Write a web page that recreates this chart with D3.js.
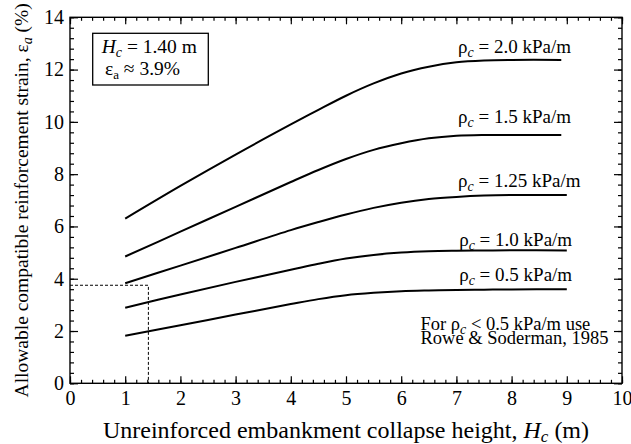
<!DOCTYPE html>
<html><head><meta charset="utf-8">
<script src="https://cdn.jsdelivr.net/npm/d3@7"></script>
</head><body style="margin:0;background:#fff">
<svg id="c" width="631" height="444" font-family="Liberation Serif"></svg>
<script>
// Data
const hcShort = [1, 2, 3, 4, 4.5, 5, 5.5, 6, 6.5, 7, 7.5, 8, 8.9];
const hcLong  = [1, 2, 3, 4, 4.5, 5, 5.5, 6, 6.5, 7, 7.5, 8, 9];
const strain20  = [6.30, 7.55, 8.75, 9.90, 10.46, 11.00, 11.47, 11.85, 12.11, 12.28, 12.35, 12.37, 12.37];
const strain15  = [4.85, 5.80, 6.75, 7.70, 8.16, 8.58, 8.93, 9.18, 9.37, 9.47, 9.50, 9.50, 9.50];
const strain125 = [3.83, 4.50, 5.18, 5.86, 6.17, 6.46, 6.71, 6.91, 7.05, 7.13, 7.18, 7.20, 7.20];
const strain10  = [2.89, 3.40, 3.88, 4.34, 4.57, 4.77, 4.91, 5.00, 5.05, 5.07, 5.08, 5.09, 5.08];
const strain05  = [1.82, 2.22, 2.63, 3.03, 3.22, 3.37, 3.46, 3.52, 3.55, 3.57, 3.58, 3.59, 3.60];
const seriesLabels = ["2.0", "1.5", "1.25", "1.0", "0.5"];
const xTicks = [0,1,2,3,4,5,6,7,8,9,10];
const yTicks = [0,2,4,6,8,10,12,14];
const designHc = 1.42, designStrain = 3.75;

const svg = d3.select("#c");
const pL = 70, pR = 622, pT = 17.3, pB = 383.3;
const x = d3.scaleLinear().domain([0, 10]).range([pL, pR]);
const y = d3.scaleLinear().domain([0, 14]).range([pB, pT]);

const xMinor = d3.range(0, 10.001, 0.2);
const yMinor = d3.range(0, 14.001, 0.4);

function axisStyle(g){
  g.attr("font-family", "Liberation Serif").attr("font-size", 20);
  g.select(".domain").remove();
  g.selectAll("line").attr("stroke", "#000").attr("stroke-width", 1.2);
  g.selectAll("text").attr("fill", "#000");
}

// bottom
svg.append("g").attr("transform", `translate(0,${pB})`)
  .call(d3.axisBottom(x).tickValues(xMinor).tickSize(-3.5).tickFormat("")).call(axisStyle);
svg.append("g").attr("transform", `translate(0,${pB})`)
  .call(d3.axisBottom(x).tickValues(xTicks).tickSize(-7).tickPadding(8).tickFormat(d3.format("d"))).call(axisStyle);
// top
svg.append("g").attr("transform", `translate(0,${pT})`)
  .call(d3.axisTop(x).tickValues(xMinor).tickSize(-3.5).tickFormat("")).call(axisStyle);
svg.append("g").attr("transform", `translate(0,${pT})`)
  .call(d3.axisTop(x).tickValues(xTicks).tickSize(-7).tickFormat("")).call(axisStyle);
// left
svg.append("g").attr("transform", `translate(${pL},0)`)
  .call(d3.axisLeft(y).tickValues(yMinor).tickSize(-4).tickFormat("")).call(axisStyle);
svg.append("g").attr("transform", `translate(${pL},0)`)
  .call(d3.axisLeft(y).tickValues(yTicks).tickSize(-8).tickPadding(6).tickFormat(d3.format("d"))).call(axisStyle);
// right
svg.append("g").attr("transform", `translate(${pR},0)`)
  .call(d3.axisRight(y).tickValues(yMinor).tickSize(-4).tickFormat("")).call(axisStyle);
svg.append("g").attr("transform", `translate(${pR},0)`)
  .call(d3.axisRight(y).tickValues(yTicks).tickSize(-8).tickFormat("")).call(axisStyle);

// frame
svg.append("rect").attr("x", pL).attr("y", pT).attr("width", pR-pL).attr("height", pB-pT)
  .attr("fill", "none").attr("stroke", "#000").attr("stroke-width", 1.4);

// dashed design lines
svg.append("path")
  .attr("d", d3.line()([[x(0), y(designStrain)], [x(designHc), y(designStrain)], [x(designHc), y(0)]]))
  .attr("fill", "none").attr("stroke", "#000").attr("stroke-width", 1).attr("stroke-dasharray", "3,2");

// curves
const series = [
  {xs: hcShort, ys: strain20},
  {xs: hcShort, ys: strain15},
  {xs: hcLong, ys: strain125},
  {xs: hcLong, ys: strain10},
  {xs: hcLong, ys: strain05}
];
const line = d3.line().x(d => x(d[0])).y(d => y(d[1])).curve(d3.curveCatmullRom.alpha(0.5));
series.forEach(s => {
  svg.append("path").datum(s.xs.map((v, i) => [v, s.ys[i]]))
    .attr("d", line).attr("fill", "none").attr("stroke", "#000").attr("stroke-width", 2);
});

function txt(px, py, size){
  return svg.append("text").attr("x", px).attr("y", py)
    .attr("font-family", "Liberation Serif").attr("font-size", size).attr("fill", "#000");
}
function sub(t, s, size, italic){
  t.append("tspan").attr("dy", 4).attr("font-size", size).attr("font-style", italic ? "italic" : "normal").text(s);
}
function back(t, s){
  t.append("tspan").attr("dy", -4).text(s);
}

// series labels
const labelPos = [[7.03, 12.62], [7.03, 9.95], [7.03, 7.52], [7.05, 5.25], [7.05, 3.93]];
labelPos.forEach((p, i) => {
  const t = txt(x(p[0]), y(p[1]), 19);
  t.append("tspan").text("ρ");
  sub(t, "c", 14, true);
  back(t, ` = ${seriesLabels[i]} kPa/m`);
});

// note
const n1 = txt(x(6.35), y(2.04), 18.5);
n1.append("tspan").text("For ρ");
sub(n1, "c", 14, true);
back(n1, " < 0.5 kPa/m use");
txt(x(6.35), y(1.50), 18.5).text("Rowe & Soderman, 1985");

// box
svg.append("rect").attr("x", 92.7).attr("y", 33.3).attr("width", 115.6).attr("height", 51.7)
  .attr("fill", "#fff").attr("stroke", "#000").attr("stroke-width", 1.3);
const b1 = txt(101.7, 53.3, 19.5);
b1.append("tspan").attr("font-style", "italic").text("H");
sub(b1, "c", 14, true);
back(b1, " = 1.40 m");
const b2 = txt(105, 75, 19.5);
b2.append("tspan").text("ε");
sub(b2, "a", 13, false);
back(b2, " ≈ 3.9%");

// axis titles
const xl = txt((pL+pR)/2, 438, 24).attr("text-anchor", "middle");
xl.append("tspan").text("Unreinforced embankment collapse height, ");
xl.append("tspan").attr("font-style", "italic").text("H");
sub(xl, "c", 17, true);
back(xl, " (m)");

const yl = txt(0, 0, 19.5).attr("transform", `translate(28,${(pT+pB)/2}) rotate(-90)`)
  .attr("text-anchor", "middle");
yl.append("tspan").text("Allowable compatible reinforcement strain, ε");
sub(yl, "a", 14, true);
back(yl, " (%)");
</script>
</body></html>
